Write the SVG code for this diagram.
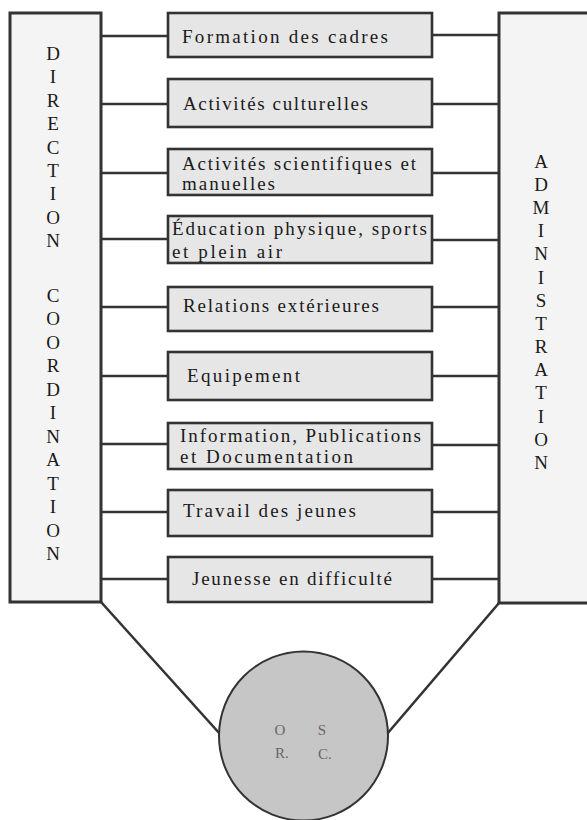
<svg xmlns="http://www.w3.org/2000/svg" width="587" height="820" viewBox="0 0 587 820">
<style>
.side{fill:#f4f4f4;stroke:#333;stroke-width:3}
.box{fill:#e6e6e6;stroke:#333;stroke-width:2.6}
.lbl{font-family:"Liberation Serif","DejaVu Serif",serif;font-size:19px;fill:#1a1a1a}
.vl{font-family:"Liberation Serif","DejaVu Serif",serif;font-size:19px;fill:#1a1a1a;text-anchor:middle}
.conn line{stroke:#333;stroke-width:2.6}
.circ{fill:#c6c6c6;stroke:#333;stroke-width:2}
.ct{font-family:"Liberation Serif","DejaVu Serif",serif;font-size:15px;fill:#666;text-anchor:middle}
</style>
<rect width="587" height="820" fill="#ffffff"/>
<g id="connectors" class="conn">
<line x1="101" y1="36" x2="168" y2="36"/><line x1="432" y1="35" x2="499" y2="35"/>
<line x1="101" y1="104" x2="168" y2="104"/><line x1="432" y1="104" x2="499" y2="104"/>
<line x1="101" y1="173" x2="168" y2="173"/><line x1="432" y1="173" x2="499" y2="173"/>
<line x1="101" y1="239" x2="168" y2="239"/><line x1="432" y1="240" x2="499" y2="240"/>
<line x1="101" y1="307" x2="168" y2="307"/><line x1="432" y1="307" x2="499" y2="307"/>
<line x1="101" y1="376" x2="168" y2="376"/><line x1="432" y1="376" x2="499" y2="376"/>
<line x1="101" y1="444" x2="168" y2="444"/><line x1="432" y1="445" x2="499" y2="445"/>
<line x1="101" y1="512" x2="168" y2="512"/><line x1="432" y1="512" x2="499" y2="512"/>
<line x1="101" y1="579" x2="168" y2="579"/><line x1="432" y1="579" x2="499" y2="579"/>
<line x1="101" y1="602" x2="220" y2="734"/>
<line x1="499" y1="603" x2="387" y2="734"/>
</g>
<g id="direction">
<rect class="side" x="10" y="13" width="91" height="589"/>
<text class="vl" x="53" y="60">D</text>
<text class="vl" x="53" y="83">I</text>
<text class="vl" x="53" y="107">R</text>
<text class="vl" x="53" y="130">E</text>
<text class="vl" x="53" y="154">C</text>
<text class="vl" x="53" y="177">T</text>
<text class="vl" x="53" y="200">I</text>
<text class="vl" x="53" y="224">O</text>
<text class="vl" x="53" y="247">N</text>
<text class="vl" x="53" y="302">C</text>
<text class="vl" x="53" y="325">O</text>
<text class="vl" x="53" y="349">O</text>
<text class="vl" x="53" y="372">R</text>
<text class="vl" x="53" y="396">D</text>
<text class="vl" x="53" y="419">I</text>
<text class="vl" x="53" y="443">N</text>
<text class="vl" x="53" y="466">A</text>
<text class="vl" x="53" y="490">T</text>
<text class="vl" x="53" y="513">I</text>
<text class="vl" x="53" y="537">O</text>
<text class="vl" x="53" y="560">N</text>
</g>
<g id="administration">
<rect class="side" x="499" y="13" width="100" height="590"/>
<text class="vl" x="541" y="168">A</text>
<text class="vl" x="541" y="191">D</text>
<text class="vl" x="541" y="214">M</text>
<text class="vl" x="541" y="237">I</text>
<text class="vl" x="541" y="260">N</text>
<text class="vl" x="541" y="284">I</text>
<text class="vl" x="541" y="307">S</text>
<text class="vl" x="541" y="330">T</text>
<text class="vl" x="541" y="353">R</text>
<text class="vl" x="541" y="376">A</text>
<text class="vl" x="541" y="399">T</text>
<text class="vl" x="541" y="423">I</text>
<text class="vl" x="541" y="446">O</text>
<text class="vl" x="541" y="469">N</text>
</g>
<g id="n1"><rect class="box" x="168" y="13" width="264" height="44"/><text class="lbl" x="182" y="43" textLength="206" lengthAdjust="spacing">Formation des cadres</text></g>
<g id="n2"><rect class="box" x="168" y="79" width="264" height="48"/><text class="lbl" x="183" y="110" textLength="185" lengthAdjust="spacing">Activités culturelles</text></g>
<g id="n3"><rect class="box" x="168" y="149" width="264" height="46"/><text class="lbl" x="182" y="170" textLength="234" lengthAdjust="spacing">Activités scientifiques et</text><text class="lbl" x="182" y="190" textLength="93" lengthAdjust="spacing">manuelles</text></g>
<g id="n4"><rect class="box" x="168" y="216" width="264" height="47"/><text class="lbl" x="172" y="235" textLength="255" lengthAdjust="spacing">Éducation physique, sports</text><text class="lbl" x="172" y="258" textLength="110" lengthAdjust="spacing">et plein air</text></g>
<g id="n5"><rect class="box" x="168" y="287" width="264" height="44"/><text class="lbl" x="183" y="312" textLength="196" lengthAdjust="spacing">Relations extérieures</text></g>
<g id="n6"><rect class="box" x="168" y="352" width="264" height="48"/><text class="lbl" x="187" y="382" textLength="113" lengthAdjust="spacing">Equipement</text></g>
<g id="n7"><rect class="box" x="168" y="423" width="264" height="46"/><text class="lbl" x="180" y="442" textLength="241" lengthAdjust="spacing">Information, Publications</text><text class="lbl" x="180" y="463" textLength="173" lengthAdjust="spacing">et Documentation</text></g>
<g id="n8"><rect class="box" x="168" y="490" width="264" height="46"/><text class="lbl" x="183" y="517" textLength="173" lengthAdjust="spacing">Travail des jeunes</text></g>
<g id="n9"><rect class="box" x="168" y="557" width="264" height="45"/><text class="lbl" x="192" y="585" textLength="200" lengthAdjust="spacing">Jeunesse en difficulté</text></g>
<g id="circle">
<circle class="circ" cx="303.5" cy="736" r="84.5"/>
<text class="ct" x="280" y="735">O</text>
<text class="ct" x="322" y="735">S</text>
<text class="ct" x="282" y="758">R.</text>
<text class="ct" x="325" y="759">C.</text>
</g>
</svg>
